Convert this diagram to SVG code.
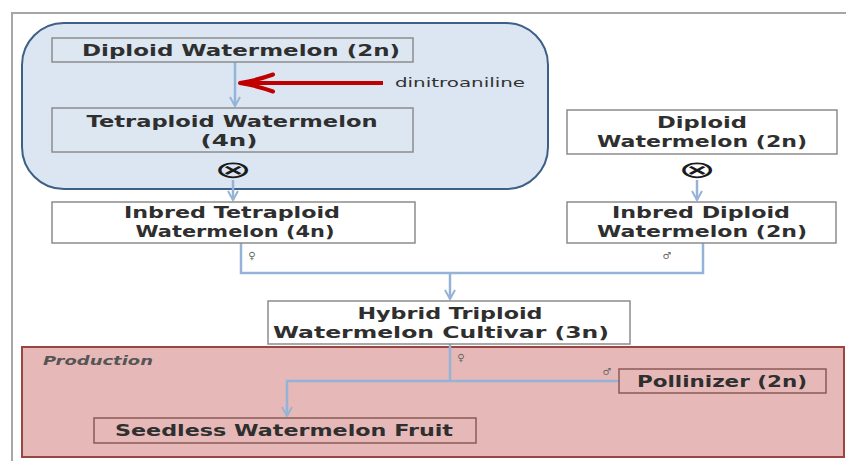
<svg xmlns="http://www.w3.org/2000/svg" width="846" height="461" viewBox="0 0 846 461">
<style>
.t{font-family:"DejaVu Sans","Liberation Sans",sans-serif;font-weight:bold;font-size:16px;fill:#2f2f2f;text-anchor:middle}
.bb{fill:#dde7f2;stroke:#8c8c8c;stroke-width:1.5}
.wb{fill:#ffffff;stroke:#8c8c8c;stroke-width:1.5}
.pb{fill:#e6b9b8;stroke:#8a5a58;stroke-width:1.5}
.c{fill:none;stroke:#95b3d7;stroke-width:2.5}
.sym{font-family:"DejaVu Sans",sans-serif;font-size:10px;fill:#666;text-anchor:middle}
.ox{font-family:"DejaVu Sans",sans-serif;font-size:24px;fill:#1a1a1a;text-anchor:middle}
</style>
<defs>
<marker id="ab" markerWidth="12" markerHeight="12" refX="10" refY="6" orient="auto" markerUnits="userSpaceOnUse">
<path d="M1,1 L10,6 L1,11" fill="none" stroke="#95b3d7" stroke-width="2"/>
</marker>
<marker id="ar" markerWidth="40" markerHeight="24" refX="36" refY="12" orient="auto" markerUnits="userSpaceOnUse">
<path d="M3,3.5 Q18,9 36,12 Q18,15 3,20.5" fill="none" stroke="#c00000" stroke-width="4" stroke-linecap="round" stroke-linejoin="round"/>
</marker>
</defs>
<rect width="846" height="461" fill="#ffffff"/>
<path d="M12,461 V13 H846" fill="none" stroke="#a6a6a6" stroke-width="2"/>

<g id="group-doubling">
<rect x="22" y="23" width="526" height="166" rx="42" fill="#dce6f2" stroke="#3e5f86" stroke-width="2"/>
</g>
<g id="group-production">
<rect x="22" y="347" width="822" height="110" fill="#e6b9b8" stroke="#9b4543" stroke-width="2"/>
<text x="43" y="365" font-family="DejaVu Sans,sans-serif" font-style="italic" font-weight="bold" font-size="12" fill="#555" textLength="110" lengthAdjust="spacingAndGlyphs">Production</text>
</g>

<g id="connectors">
<line class="c" x1="235" y1="62" x2="235" y2="106" marker-end="url(#ab)"/>
<line x1="383" y1="83" x2="240" y2="83" stroke="#c00000" stroke-width="4" marker-end="url(#ar)"/>
<line class="c" x1="233" y1="180" x2="233" y2="200" marker-end="url(#ab)"/>
<line class="c" x1="697" y1="180" x2="697" y2="200" marker-end="url(#ab)"/>
<path class="c" d="M241,243 V273 H703 V243"/>
<line class="c" x1="450" y1="273" x2="450" y2="299" marker-end="url(#ab)"/>
<path class="c" d="M450,344 V381"/>
<path class="c" d="M619,381 H287 V416" marker-end="url(#ab)"/>
<text class="sym" x="252" y="259">♀</text>
<text class="sym" x="667" y="259">♂</text>
<text class="sym" x="461" y="361">♀</text>
<text class="sym" x="607" y="375">♂</text>
</g>

<g id="n-diploid">
<rect class="bb" x="52" y="38" width="361" height="24"/>
<text class="t" x="241" y="56" font-size="17" textLength="318" lengthAdjust="spacingAndGlyphs">Diploid Watermelon (2n)</text>
</g>
<g id="label-dinitroaniline">
<text x="395" y="87" font-family="DejaVu Sans,sans-serif" font-size="12.5" fill="#333" textLength="130" lengthAdjust="spacingAndGlyphs">dinitroaniline</text>
</g>
<g id="n-tetraploid">
<rect class="bb" x="52" y="108" width="361" height="44"/>
<text class="t" x="232" y="127" textLength="291" lengthAdjust="spacingAndGlyphs">Tetraploid Watermelon</text>
<text class="t" x="229" y="146" textLength="57" lengthAdjust="spacingAndGlyphs">(4n)</text>
</g>
<g id="self-1"><text class="ox" transform="translate(233,178) scale(1.9,1)">⊗</text></g>
<g id="n-diploid-r">
<rect class="wb" x="567" y="110" width="270" height="44"/>
<text class="t" x="702" y="128" textLength="90" lengthAdjust="spacingAndGlyphs">Diploid</text>
<text class="t" x="702" y="147" textLength="210" lengthAdjust="spacingAndGlyphs">Watermelon (2n)</text>
</g>
<g id="self-2"><text class="ox" transform="translate(697,178) scale(1.9,1)">⊗</text></g>
<g id="n-inbred-tetra">
<rect class="wb" x="52" y="202" width="363" height="41"/>
<text class="t" x="232" y="218" textLength="216" lengthAdjust="spacingAndGlyphs">Inbred Tetraploid</text>
<text class="t" x="235" y="237" textLength="199" lengthAdjust="spacingAndGlyphs">Watermelon (4n)</text>
</g>
<g id="n-inbred-diploid">
<rect class="wb" x="567" y="202" width="269" height="41"/>
<text class="t" x="701" y="218" textLength="178" lengthAdjust="spacingAndGlyphs">Inbred Diploid</text>
<text class="t" x="702" y="237" textLength="210" lengthAdjust="spacingAndGlyphs">Watermelon (2n)</text>
</g>
<g id="n-hybrid">
<rect class="wb" x="268" y="301" width="362" height="43"/>
<text class="t" x="450" y="319" textLength="185" lengthAdjust="spacingAndGlyphs">Hybrid Triploid</text>
<text class="t" x="441" y="338" textLength="336" lengthAdjust="spacingAndGlyphs">Watermelon  Cultivar (3n)</text>
</g>
<g id="n-pollinizer">
<rect class="pb" x="619" y="369" width="207" height="24"/>
<text class="t" x="722" y="387" textLength="170" lengthAdjust="spacingAndGlyphs">Pollinizer (2n)</text>
</g>
<g id="n-seedless">
<rect class="pb" x="94" y="418" width="382" height="25"/>
<text class="t" x="284" y="436" font-size="17" textLength="338" lengthAdjust="spacingAndGlyphs">Seedless Watermelon Fruit</text>
</g>
</svg>
